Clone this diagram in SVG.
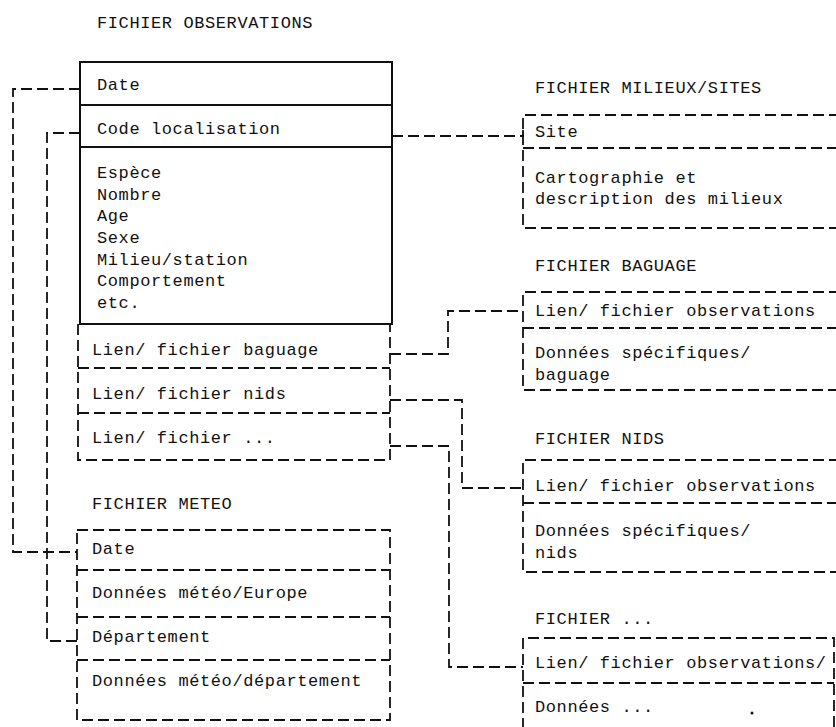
<svg xmlns="http://www.w3.org/2000/svg" width="836" height="727" viewBox="0 0 836 727">
<style>
text{font-family:"Liberation Mono","DejaVu Sans Mono",monospace;font-size:17px;letter-spacing:0.6px;fill:#111}
.s{fill:none;stroke:#111;stroke-width:2}
.d{fill:none;stroke:#111;stroke-width:1.8;stroke-dasharray:11 5}
</style>
<rect width="836" height="727" fill="#fff"/>
<g id="connectors">
<polyline class="d" points="80,89 13,89 13,552 77,552"/>
<polyline class="d" points="80,133 47,133 47,641 77,641"/>
<polyline class="d" points="392,136 523,136 523,130"/>
<polyline class="d" points="390,354 448,354 448,311 523,311"/>
<polyline class="d" points="390,400 462,400 462,488 523,488"/>
<polyline class="d" points="390,446 449,446 449,667 523,667"/>
</g>
<g id="observations">
<text x="97" y="28">FICHIER OBSERVATIONS</text>
<rect class="s" x="80" y="62" width="312" height="262"/>
<line class="s" x1="80" y1="105" x2="392" y2="105"/>
<line class="s" x1="80" y1="147" x2="392" y2="147"/>
<text x="97" y="90">Date</text>
<text x="97" y="134">Code localisation</text>
<text x="97" y="178">Espèce</text>
<text x="97" y="200">Nombre</text>
<text x="97" y="221">Age</text>
<text x="97" y="243">Sexe</text>
<text x="97" y="265">Milieu/station</text>
<text x="97" y="286">Comportement</text>
<text x="97" y="308">etc.</text>
<polyline class="d" points="78,324 78,460 390,460 390,324"/>
<line class="d" x1="78" y1="368" x2="390" y2="368"/>
<line class="d" x1="78" y1="413" x2="390" y2="413"/>
<text x="92" y="355">Lien/ fichier baguage</text>
<text x="92" y="399">Lien/ fichier nids</text>
<text x="92" y="443">Lien/ fichier ...</text>
</g>
<g id="meteo">
<text x="92" y="509">FICHIER METEO</text>
<rect class="d" x="77" y="530" width="313" height="190"/>
<line class="d" x1="77" y1="570" x2="390" y2="570"/>
<line class="d" x1="77" y1="617" x2="390" y2="617"/>
<line class="d" x1="77" y1="660" x2="390" y2="660"/>
<text x="92" y="554">Date</text>
<text x="92" y="598">Données météo/Europe</text>
<text x="92" y="642">Département</text>
<text x="92" y="686">Données météo/département</text>
</g>
<g id="milieux">
<text x="535" y="93">FICHIER MILIEUX/SITES</text>
<polyline class="d" points="840,115 523,115 523,228 840,228"/>
<line class="d" x1="523" y1="148" x2="840" y2="148"/>
<text x="535" y="137">Site</text>
<text x="535" y="183">Cartographie et</text>
<text x="535" y="204">description des milieux</text>
</g>
<g id="baguage">
<text x="535" y="271">FICHIER BAGUAGE</text>
<polyline class="d" points="840,292 523,292 523,390 840,390"/>
<line class="d" x1="523" y1="328" x2="840" y2="328"/>
<text x="535" y="316">Lien/ fichier observations</text>
<text x="535" y="358">Données spécifiques/</text>
<text x="535" y="380">baguage</text>
</g>
<g id="nids">
<text x="535" y="444">FICHIER NIDS</text>
<polyline class="d" points="840,460 523,460 523,572 840,572"/>
<line class="d" x1="523" y1="503" x2="840" y2="503"/>
<text x="535" y="491">Lien/ fichier observations</text>
<text x="535" y="536">Données spécifiques/</text>
<text x="535" y="558">nids</text>
</g>
<g id="autre">
<text x="535" y="624">FICHIER ...</text>
<polyline class="d" points="834,727 834,638 523,638 523,727"/>
<line class="d" x1="523" y1="683" x2="834" y2="683"/>
<text x="535" y="668">Lien/ fichier observations/</text>
<text x="535" y="712">Données ...</text>
<circle cx="752" cy="713" r="1.5" fill="#111"/>
</g>
</svg>
